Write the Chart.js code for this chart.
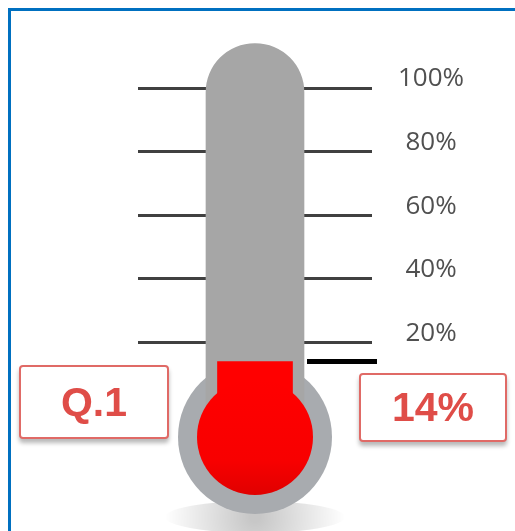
<!DOCTYPE html>
<html>
<head>
<meta charset="utf-8">
<script src="https://cdn.jsdelivr.net/npm/chart.js@4.4.1/dist/chart.umd.min.js"></script>
<style>
  html, body { margin: 0; padding: 0; background: #fff; overflow: hidden; }
  #wrap { position: relative; width: 515px; height: 531px; }
  #frame { position: absolute; left: 8px; top: 8px; width: 540px; height: 560px; border: 3px solid #0070c0; }
  canvas { position: absolute; left: 0; top: 0; }
  .box {
    position: absolute; box-sizing: border-box; background: #fff;
    border: 2px solid #e06a66; border-radius: 4px;
    box-shadow: 0 4px 4px rgba(0,0,0,0.28);
    color: #df4d48; font: bold 41px "Liberation Sans", Arial, sans-serif;
    display: flex; align-items: center; justify-content: center;
  }
</style>
</head>
<body>
<div id="wrap">
  <div id="frame"></div>
  <canvas id="thermo" width="515" height="531"></canvas>
  <div class="box" id="lblName" style="left:19px; top:365px; width:150px; height:74px;"></div>
  <div class="box" id="lblValue" style="left:359px; top:373px; width:148px; height:69px;"></div>
</div>
<script>
// donnees
var categories = ['Q.1'];
var fillValues = [14];      // niveau du thermometre (%)
var tubeValues = [114];     // hauteur du tube (haut du dome)
var tickValues = [20, 40, 60, 80, 100];

document.getElementById('lblName').textContent = categories[0];
document.getElementById('lblValue').textContent = fillValues[0] + '%';

// bulbe, ombre et marqueur dessines autour des barres
var thermoPlugin = {
    id: 'thermo',
    beforeDatasetsDraw: function(chart) {
        var ctx = chart.ctx;
        var y = chart.scales.y;
        var bar = chart.getDatasetMeta(0).data[0];
        var cx = bar.x;
        var cy = y.getPixelForValue(0) + 31;

        // ombre
        ctx.save();
        var g = ctx.createRadialGradient(cx, cy + 80, 5, cx, cy + 80, 90);
        g.addColorStop(0, 'rgba(0,0,0,0.22)');
        g.addColorStop(1, 'rgba(0,0,0,0)');
        ctx.fillStyle = g;
        ctx.beginPath();
        ctx.ellipse(cx, cy + 80, 90, 16, 0, 0, Math.PI * 2);
        ctx.fill();

        // bulbe gris
        ctx.fillStyle = '#a8abaf';
        ctx.beginPath();
        ctx.arc(cx, cy, 77, 0, Math.PI * 2);
        ctx.fill();
        ctx.restore();
    },
    afterDatasetsDraw: function(chart) {
        var ctx = chart.ctx;
        var y = chart.scales.y;
        var bar = chart.getDatasetMeta(0).data[0];
        var cx = bar.x;
        var cy = y.getPixelForValue(0) + 31;

        ctx.save();
        var g = ctx.createLinearGradient(0, cy - 58, 0, cy + 58);
        g.addColorStop(0, '#ff0000');
        g.addColorStop(0.7, '#f80000');
        g.addColorStop(1, '#e00000');
        ctx.fillStyle = g;
        ctx.beginPath();
        ctx.arc(cx, cy, 58, 0, Math.PI * 2);
        ctx.fill();

        // marqueur noir au niveau
        var ly = y.getPixelForValue(fillValues[0]);
        ctx.strokeStyle = '#000';
        ctx.lineWidth = 5;
        ctx.beginPath();
        ctx.moveTo(cx + 52, ly);
        ctx.lineTo(chart.chartArea.right + 5, ly);
        ctx.stroke();
        ctx.restore();
    }
};

var ctx = document.getElementById('thermo').getContext('2d');
var chart = new Chart(ctx, {
    type: 'bar',
    data: {
        labels: categories,
        datasets: [{
            label: 'tube',
            data: tubeValues,
            backgroundColor: '#a6a6a6',
            barThickness: 98,
            borderRadius: { topLeft: 49, topRight: 49, bottomLeft: 0, bottomRight: 0 },
            grouped: false,
            clip: false,
            order: 2
        }, {
            label: 'niveau',
            data: fillValues,
            backgroundColor: '#ff0000',
            barThickness: 75,
            grouped: false,
            clip: false,
            order: 1
        }]
    },
    options: {
        responsive: false,
        animation: false,
        devicePixelRatio: 1,
        layout: { padding: { left: 138, top: 88, bottom: 125, right: 0 } },
        plugins: { legend: { display: false }, tooltip: { enabled: false } },
        scales: {
            x: { display: false },
            y: {
                position: 'right',
                min: 0,
                max: 100,
                afterBuildTicks: function(axis) {
                    axis.ticks = tickValues.map(function(v) { return { value: v }; });
                },
                afterFit: function(axis) { axis.width = 143; },
                border: { display: false },
                grid: { color: '#404040', lineWidth: 3, drawTicks: false },
                ticks: {
                    padding: 26,
                    crossAlign: 'center',
                    labelOffset: -9,
                    color: '#505050',
                    font: { family: 'Open Sans', size: 26, weight: 'normal' },
                    callback: function(v) { return v + '%'; }
                }
            }
        }
    },
    plugins: [thermoPlugin]
});
</script>
</body>
</html>
